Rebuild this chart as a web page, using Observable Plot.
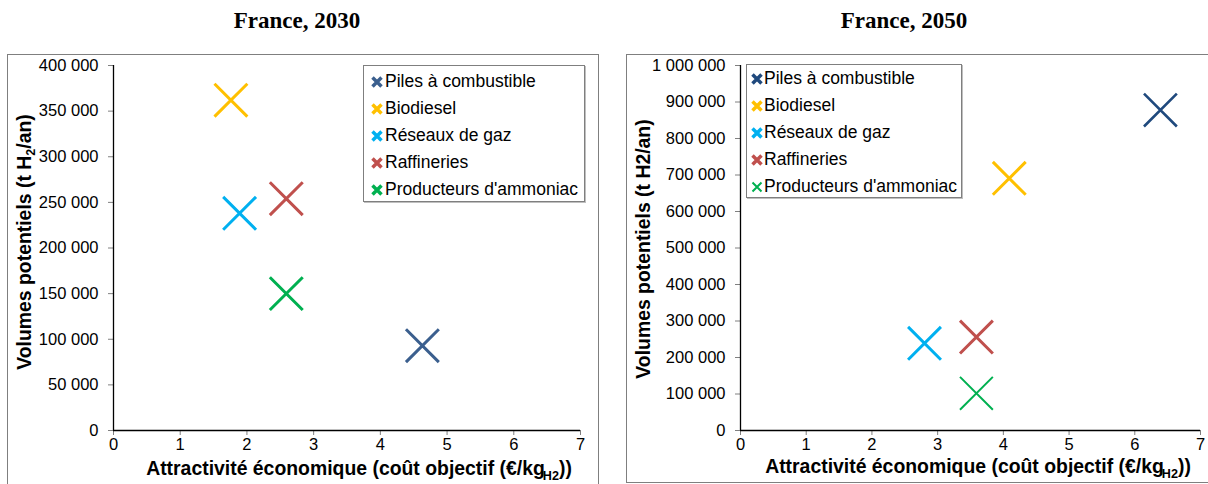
<!DOCTYPE html>
<html>
<head>
<meta charset="utf-8">
<script src="https://cdn.jsdelivr.net/npm/d3@7"></script>
<script src="https://cdn.jsdelivr.net/npm/@observablehq/plot@0.6"></script>
<style>
  body { margin: 0; background: #fff; }
  #page { position: relative; width: 1208px; height: 484px; overflow: hidden; font-family: "Liberation Sans", Arial, sans-serif; color: #000; }
  .title { position: absolute; top: 9px; line-height: 23px; font-family: "Liberation Serif", "Times New Roman", serif; font-weight: bold; font-size: 23px; transform: translateX(-50%); white-space: nowrap; }
  .frame { position: absolute; border: 1.5px solid #7f7f7f; box-sizing: border-box; }
  .chart { position: absolute; }
  .chart svg { overflow: visible; }
  .xlabel, .ylabel { position: absolute; font-weight: bold; font-size: 19.4px; line-height: 20px; white-space: nowrap; }
  .xlabel { transform: translate(-50%, -50%); }
  .ylabel { transform: translate(-50%, -50%) rotate(-90deg); }
  .sub { font-size: 0.65em; vertical-align: -0.35em; line-height: 0; }
  .subg { font-size: 0.65em; vertical-align: -0.38em; line-height: 0; margin-left: -2px; }
  .legend { position: absolute; border: 1px solid #7f7f7f; background: #fff; box-sizing: border-box; font-size: 17.5px; box-shadow: 1px 1px 0 #bfbfbf; }
  .legend .row { position: relative; height: 27px; line-height: 27px; white-space: nowrap; }
  .legend .row svg { position: absolute; top: 8px; }
  .legend .row span { position: absolute; top: 0; }
</style>
</head>
<body>
<div id="page"></div>
<script>
// ---------- data ----------
const categories = ["Piles à combustible", "Biodiesel", "Réseaux de gaz", "Raffineries", "Producteurs d'ammoniac"];
const cost2030 = [4.63, 1.76, 1.89, 2.59, 2.59];
const volume2030 = [93000, 362000, 238000, 254000, 150000];
const cost2050 = [6.39, 4.09, 2.80, 3.59, 3.59];
const volume2050 = [878000, 691000, 239000, 256000, 102000];
const xTicks = [0, 1, 2, 3, 4, 5, 6, 7];
const yTicks2030 = [0, 50000, 100000, 150000, 200000, 250000, 300000, 350000, 400000];
const yTicks2050 = [0, 100000, 200000, 300000, 400000, 500000, 600000, 700000, 800000, 900000, 1000000];
const titles = ["France, 2030", "France, 2050"];

// ---------- styles ----------
const colors2030 = ["#3b5f8e", "#ffc000", "#00b0f0", "#c0504d", "#00b050"];
const colors2050 = ["#1f497d", "#ffc000", "#00b0f0", "#c0504d", "#00b050"];
const widths2030 = [3, 3, 3, 3, 3];
const widths2050 = [2.6, 3, 3, 3, 2];
const legendWidths2030 = [3.5, 3.5, 3.5, 3.5, 3.5];
const legendWidths2050 = [3.5, 3.5, 3.5, 3.5, 2];

const fmt = d3.formatLocale({decimal: ",", thousands: " ", grouping: [3], currency: ["", "€"]}).format(",");
const page = document.getElementById("page");

function el(tag, cls, css, html) {
  const e = document.createElement(tag);
  if (cls) e.className = cls;
  Object.assign(e.style, css || {});
  if (html != null) e.innerHTML = html;
  page.appendChild(e);
  return e;
}

function makeChart(cfg) {
  const data = categories.map((c, i) => ({cat: c, x: cfg.cost[i], y: cfg.volume[i]}));
  const plot = Plot.plot({
    width: cfg.width, height: cfg.height,
    marginLeft: cfg.ml, marginRight: cfg.mr, marginTop: cfg.mt, marginBottom: cfg.mb,
    style: {fontFamily: "'Liberation Sans', Arial, sans-serif", fontSize: "16.5px", color: "#000", background: "transparent", overflow: "visible"},
    x: {domain: [0, 7]},
    y: {domain: cfg.yDomain},
    color: {domain: categories, range: cfg.colors},
    marks: [
      Plot.axisX(xTicks, {tickSize: 5, tickPadding: 3, fontSize: 16.5, stroke: "#808080", fill: "#000", label: null, tickFormat: d => String(d)}),
      Plot.axisY(cfg.yTicks, {tickSize: 5, tickPadding: cfg.tp, fontSize: 16.5, stroke: "#808080", fill: "#000", label: null, tickFormat: fmt}),
      Plot.ruleY([0], {stroke: "#000", strokeWidth: 1.3}),
      Plot.ruleX([0], {stroke: "#000", strokeWidth: 1.3}),
      ...categories.map((c, i) => Plot.dot(data.filter(d => d.cat === c), {
        x: "x", y: "y", symbol: "times", r: 15, stroke: "cat", strokeWidth: cfg.widths[i]
      }))
    ]
  });
  const holder = el("div", "chart", {left: cfg.left + "px", top: cfg.top + "px"});
  holder.appendChild(plot);
}

function makeLegend(cfg) {
  const box = el("div", "legend", {left: cfg.left + "px", top: cfg.top + "px", width: cfg.w + "px", height: cfg.h + "px", paddingTop: cfg.pad + "px"});
  categories.forEach((c, i) => {
    const row = document.createElement("div");
    row.className = "row";
    const svg = d3.create("svg").attr("width", 12).attr("height", 12)
      .style("left", (cfg.mx - 6) + "px");
    svg.append("path").attr("d", "M1.5,1.5L10.5,10.5M1.5,10.5L10.5,1.5")
      .attr("stroke", cfg.colors[i]).attr("stroke-width", cfg.sw[i]).attr("fill", "none");
    row.appendChild(svg.node());
    const sp = document.createElement("span");
    sp.style.left = cfg.tx + "px";
    sp.textContent = c;
    row.appendChild(sp);
    box.appendChild(row);
  });
}

// frames
el("div", "frame", {left: "7px", top: "54px", width: "592px", height: "450px"});
el("div", "frame", {left: "626px", top: "54px", width: "600px", height: "429px"});

// titles
el("div", "title", {left: "297px"}, titles[0]);
el("div", "title", {left: "904px"}, titles[1]);

// charts
makeChart({cost: cost2030, volume: volume2030, yTicks: yTicks2030, yDomain: [0, 400000],
  colors: colors2030, widths: widths2030, left: 8, top: 55, width: 590, height: 429, ml: 105, mr: 18, mt: 10, mb: 54, tp: 10});
makeChart({cost: cost2050, volume: volume2050, yTicks: yTicks2050, yDomain: [0, 1000000],
  colors: colors2050, widths: widths2050, left: 627, top: 55, width: 581, height: 429, ml: 113, mr: 8, mt: 10, mb: 54, tp: 10});

// axis titles
el("div", "ylabel", {left: "24px", top: "242px"}, "Volumes potentiels (t H<span class='sub'>2</span>/an)");
el("div", "xlabel", {left: "359px", top: "468px"}, "Attractivité économique (coût objectif (€/kg<span class='subg'>H2</span>))");
el("div", "ylabel", {left: "643px", top: "249px"}, "Volumes potentiels (t H2/an)");
el("div", "xlabel", {left: "978px", top: "466px"}, "Attractivité économique (coût objectif (€/kg<span class='subg'>H2</span>))");

// legends
makeLegend({left: 363, top: 65, w: 222, h: 137, pad: 2, mx: 13, tx: 21, colors: colors2030, sw: legendWidths2030});
makeLegend({left: 746, top: 64, w: 216, h: 134, pad: 0, mx: 10, tx: 17, colors: colors2050, sw: legendWidths2050});
</script>
</body>
</html>
